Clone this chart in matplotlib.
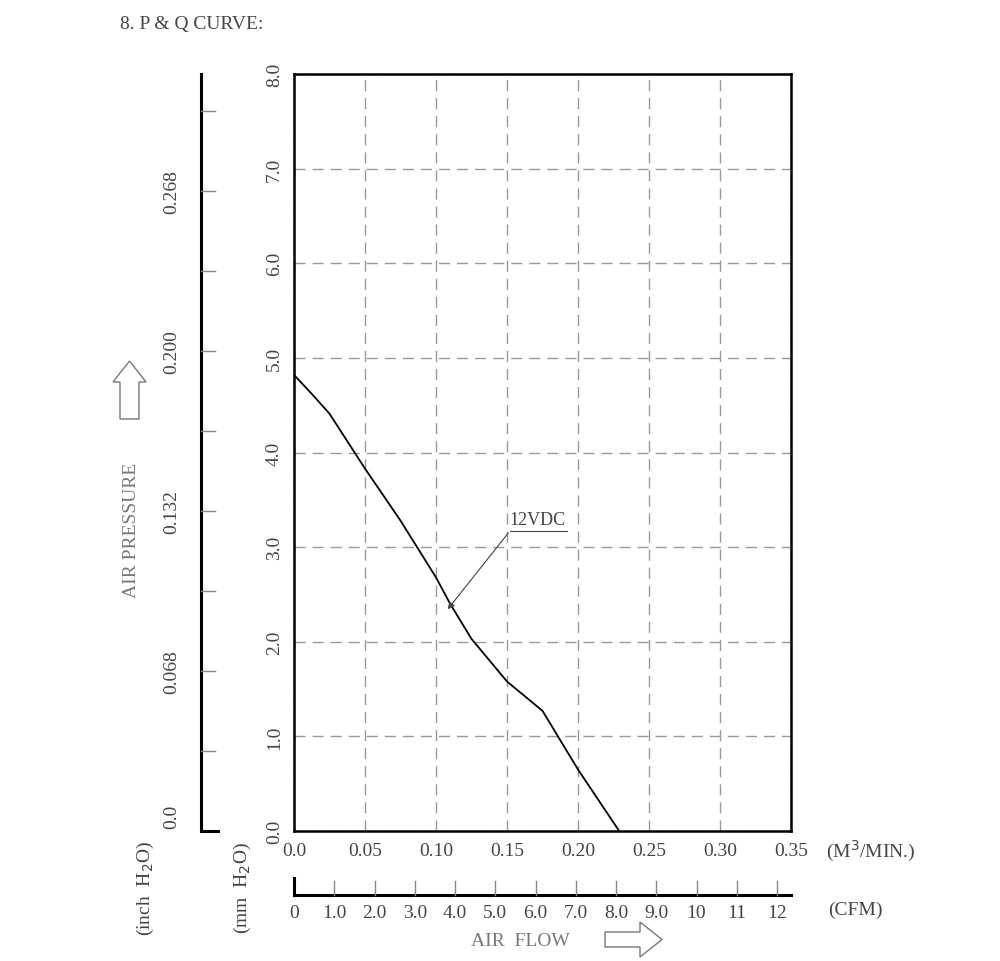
import matplotlib
matplotlib.use("Agg")
import matplotlib.pyplot as plt
from matplotlib.patches import Polygon
import numpy as np

flow = [0.0, 0.0125, 0.025, 0.05, 0.075, 0.10, 0.11, 0.125, 0.15, 0.175, 0.20, 0.229]
pressure = [4.82, 4.62, 4.41, 3.83, 3.28, 2.68, 2.40, 2.03, 1.58, 1.27, 0.65, 0.0]
x_ticks = [0.0, 0.05, 0.10, 0.15, 0.20, 0.25, 0.30, 0.35]
x_labels = ["0.0", "0.05", "0.10", "0.15", "0.20", "0.25", "0.30", "0.35"]
y_ticks = [0, 1, 2, 3, 4, 5, 6, 7, 8]
cfm_labels = ["0", "1.0", "2.0", "3.0", "4.0", "5.0", "6.0", "7.0", "8.0", "9.0", "10", "11", "12"]
inch_labels = ["0.0", "0.068", "0.132", "0.200", "0.268"]

plt.rcParams['font.family'] = ['Liberation Serif', 'DejaVu Serif']
TC = '#444444'
W, H = 1000, 962
fig = plt.figure(figsize=(10, 9.62), dpi=100)

def fx(px): return px / W
def fy(py): return 1 - py / H

ax = fig.add_axes([fx(294), fy(832), fx(791) - fx(294), fy(75) - fy(832)])
ax.set_xlim(0, 0.35)
ax.set_ylim(0, 8)
ax.plot(flow, pressure, color='black', lw=1.3)
ax.set_xticks(x_ticks)
ax.set_xticklabels(x_labels, fontsize=14, color=TC)
ax.set_yticks(y_ticks)
ax.set_yticklabels([f"{v:.1f}" for v in y_ticks], fontsize=14, color=TC, rotation=90, va='center')
ax.tick_params(length=0, pad=8)
ax.grid(True, color='#999999', ls=(0, (8, 5)), lw=1)
for s in ax.spines.values():
    s.set_linewidth(1.8)
ax.annotate("", xy=(0.107, 2.32), xytext=(0.152, 3.17),
            arrowprops=dict(arrowstyle='-|>', color='#444444', lw=0.8, mutation_scale=10))
ax.text(0.152, 3.2, "12VDC", fontsize=13, color=TC, ha='left', va='bottom')
ax.plot([0.152, 0.192], [3.17, 3.17], color='#444444', lw=0.8)

# Inch axis
fig.add_artist(plt.Line2D([fx(201), fx(201)], [fy(75), fy(832)], color='black', lw=2.2))
fig.add_artist(plt.Line2D([fx(201), fx(218)], [fy(832), fy(832)], color='black', lw=2.2))
for k in range(1, 10):
    py = 832 - 80 * k
    fig.add_artist(plt.Line2D([fx(201), fx(215)], [fy(py), fy(py)], color='#888888', lw=1))
for lab, py in zip(inch_labels, [817, 672, 512, 352, 192]):
    fig.text(fx(172), fy(py), lab, rotation=90, fontsize=14, color=TC, ha='center', va='center')

# CFM axis
fig.add_artist(plt.Line2D([fx(294), fx(791)], [fy(896), fy(896)], color='black', lw=2.2))
fig.add_artist(plt.Line2D([fx(294), fx(294)], [fy(896), fy(879)], color='black', lw=2.2))
for k, lab in enumerate(cfm_labels):
    px = 294 + 40.25 * k
    if k > 0:
        fig.add_artist(plt.Line2D([fx(px), fx(px)], [fy(896), fy(882)], color='#888888', lw=1))
    fig.text(fx(px), fy(914), lab, fontsize=14, color=TC, ha='center', va='center')

fig.text(fx(120), fy(25), "8. P & Q CURVE:", fontsize=14, color=TC, ha='left', va='center')
fig.text(fx(826), fy(851), "(M$^3$/MIN.)", fontsize=14, color=TC, ha='left', va='center')
fig.text(fx(828), fy(910), "(CFM)", fontsize=14, color=TC, ha='left', va='center')
fig.text(fx(520), fy(942), "AIR  FLOW", fontsize=14, color='#777777', ha='center', va='center')
fig.text(fx(131), fy(530), "AIR PRESSURE", fontsize=14, color='#777777', rotation=90, ha='center', va='center')
fig.text(fx(145), fy(888), "(inch  H$_2$O)", fontsize=14, color=TC, rotation=90, ha='center', va='center')
fig.text(fx(242), fy(888), "(mm  H$_2$O)", fontsize=14, color=TC, rotation=90, ha='center', va='center')

# Hollow arrows
up = [(120, 420), (139, 420), (139, 383), (146, 383), (129.5, 362), (113, 383), (120, 383)]
fig.add_artist(Polygon([(fx(a), fy(b)) for a, b in up], closed=True, fill=False,
                       edgecolor='#777777', lw=1, transform=fig.transFigure))
right = [(605, 933), (640, 933), (640, 923), (662, 940.5), (640, 958), (640, 948), (605, 948)]
fig.add_artist(Polygon([(fx(a), fy(b)) for a, b in right], closed=True, fill=False,
                       edgecolor='#777777', lw=1, transform=fig.transFigure))

fig.savefig("out.png", dpi=100)
